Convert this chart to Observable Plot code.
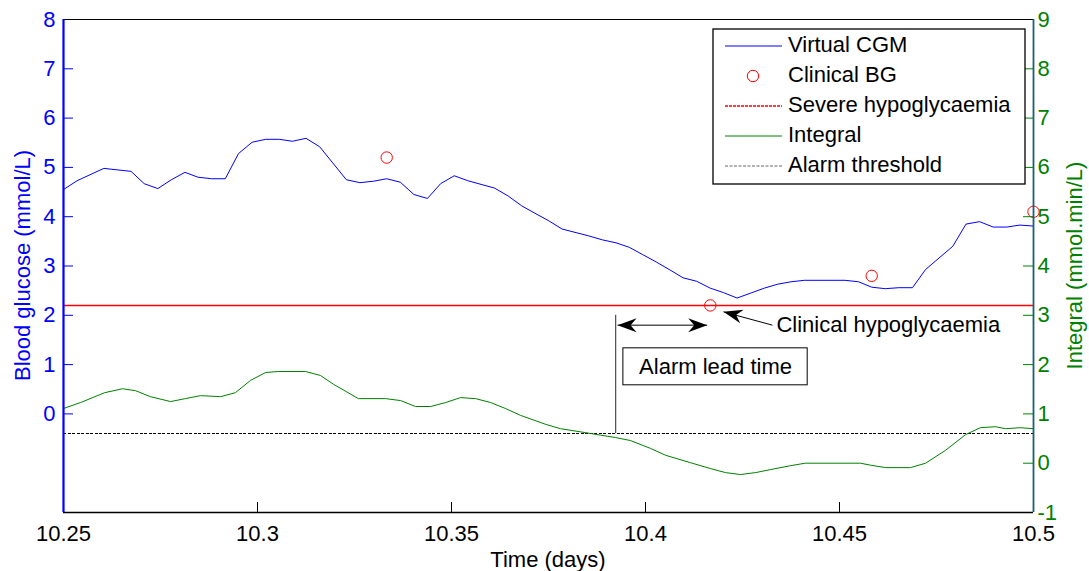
<!DOCTYPE html>
<html><head><meta charset="utf-8">
<script src="https://cdn.jsdelivr.net/npm/d3@7"></script>
<script src="https://cdn.jsdelivr.net/npm/@observablehq/plot@0.6"></script>
<style>
html,body{margin:0;padding:0;background:#fff;}
#chart{position:relative;width:1089px;height:571px;}
</style></head><body><div id="chart"></div>
<script>
// ---------- data ----------
const cgmTime = [10.2500,10.2535,10.2604,10.2674,10.2708,10.2743,10.2778,10.2813,10.2847,10.2882,10.2917,10.2951,10.2986,10.3021,10.3056,10.3090,10.3125,10.3160,10.3194,10.3229,10.3264,10.3299,10.3333,10.3368,10.3403,10.3438,10.3472,10.3507,10.3542,10.3611,10.3646,10.3681,10.3715,10.3750,10.3785,10.3854,10.3889,10.3924,10.3958,10.3993,10.4028,10.4063,10.4097,10.4132,10.4167,10.4201,10.4236,10.4271,10.4306,10.4340,10.4375,10.4410,10.4514,10.4549,10.4583,10.4618,10.4653,10.4688,10.4722,10.4792,10.4826,10.4861,10.4896,10.4931,10.4965,10.5000];
const cgmValue = [4.55,4.73,4.98,4.92,4.67,4.57,4.75,4.90,4.80,4.77,4.77,5.28,5.51,5.57,5.57,5.53,5.59,5.42,5.09,4.75,4.69,4.72,4.77,4.70,4.45,4.37,4.67,4.83,4.73,4.58,4.42,4.22,4.07,3.92,3.75,3.61,3.53,3.47,3.38,3.23,3.08,2.92,2.76,2.69,2.55,2.46,2.35,2.45,2.55,2.63,2.68,2.71,2.71,2.68,2.57,2.54,2.56,2.56,2.93,3.40,3.85,3.90,3.79,3.79,3.83,3.81];
const bgTime = [10.3333, 10.4167, 10.4583, 10.5];
const bgValue = [5.2, 2.2, 2.8, 4.1];
const integralTime = [10.2500,10.2544,10.2606,10.2652,10.2686,10.2724,10.2776,10.2814,10.2853,10.2905,10.2943,10.2982,10.3021,10.3054,10.3124,10.3162,10.3196,10.3260,10.3330,10.3369,10.3407,10.3446,10.3485,10.3523,10.3562,10.3601,10.3639,10.3678,10.3742,10.3781,10.3845,10.3884,10.3923,10.3961,10.4013,10.4052,10.4116,10.4168,10.4206,10.4245,10.4284,10.4322,10.4374,10.4412,10.4554,10.4580,10.4619,10.4683,10.4722,10.4773,10.4825,10.4863,10.4902,10.4928,10.4966,10.5000];
const integralValue = [1.11,1.23,1.43,1.51,1.47,1.35,1.25,1.31,1.37,1.35,1.43,1.68,1.84,1.86,1.86,1.78,1.60,1.31,1.31,1.27,1.15,1.15,1.23,1.33,1.31,1.23,1.11,0.97,0.79,0.70,0.62,0.57,0.52,0.46,0.30,0.16,0.01,-0.11,-0.19,-0.23,-0.19,-0.13,-0.05,0.00,0.00,-0.04,-0.09,-0.09,0.00,0.26,0.58,0.72,0.74,0.70,0.72,0.70];
const severeHypo = 2.2;        // mmol/L (left axis)
const alarmThreshold = 0.6;    // mmol.min/L (right axis)
const xDomain = [10.25, 10.5];
const leftDomain = [-2, 8];
const rightDomain = [-1, 9];
const xTicks = [10.25, 10.3, 10.35, 10.4, 10.45, 10.5];
const xTickLabels = ["10.25", "10.3", "10.35", "10.4", "10.45", "10.5"];
const leftTicks = [0, 1, 2, 3, 4, 5, 6, 7, 8];
const rightTicks = [-1, 0, 1, 2, 3, 4, 5, 6, 7, 8, 9];
// annotations (data units: time in days, level in mmol/L)
const alarmTime = 10.3923;
const alarmLineTop = 2.0;
const leadArrow = {x1: 10.3928, x2: 10.4159, y: 1.8};
const leadBox = {x1: 10.3943, x2: 10.4418, y1: 0.58, y2: 1.33, label: "Alarm lead time"};
const hypoPointer = {x1: 10.4327, y1: 1.80, x2: 10.4201, y2: 2.07, label: "Clinical hypoglycaemia"};
const legendLabels = ["Virtual CGM", "Clinical BG", "Severe hypoglycaemia", "Integral", "Alarm threshold"];

// ---------- helpers ----------
const toLeft = r => leftDomain[0] + (r - rightDomain[0]) * (leftDomain[1] - leftDomain[0]) / (rightDomain[1] - rightDomain[0]);
const cgm = cgmTime.map((t, i) => ({t, v: cgmValue[i]}));
const bg = bgTime.map((t, i) => ({t, v: bgValue[i]}));
const integral = integralTime.map((t, i) => ({t, v: toLeft(integralValue[i])}));
const BLUE = "#0000ff", RED = "#ff0000", GREEN = "#008000", TEAL = "#18607a";
const arrowHead = {draw(ctx) { ctx.moveTo(0, 0); ctx.lineTo(-7, 19); ctx.lineTo(0, 13); ctx.lineTo(7, 19); ctx.closePath(); }};
const heads = [
  {t: leadArrow.x1, v: leadArrow.y, rot: -90},
  {t: leadArrow.x2, v: leadArrow.y, rot: 90},
  {t: hypoPointer.x2, v: hypoPointer.y2, rot: -76}
];

const chart = Plot.plot({
  width: 1089, height: 571,
  marginLeft: 63, marginRight: 56, marginTop: 19, marginBottom: 59,
  x: {domain: xDomain},
  y: {domain: leftDomain},
  style: {fontFamily: "'Liberation Sans', Arial, sans-serif", fontSize: "22px", background: "#fff", overflow: "visible"},
  marks: [
    Plot.ruleY([severeHypo], {stroke: RED, strokeWidth: 1.5}),
    Plot.ruleY([toLeft(alarmThreshold)], {stroke: "#000", strokeWidth: 1, strokeDasharray: "3,1.5", shapeRendering: "crispEdges"}),
    Plot.line(integral, {x: "t", y: "v", stroke: GREEN, strokeWidth: 1}),
    Plot.line(cgm, {x: "t", y: "v", stroke: BLUE, strokeWidth: 1}),
    Plot.dot(bg, {x: "t", y: "v", r: 5.7, stroke: RED, fill: "none", strokeWidth: 1}),
    // annotations
    Plot.ruleX([alarmTime], {y1: toLeft(alarmThreshold), y2: alarmLineTop, stroke: "#555", strokeWidth: 1.3}),
    Plot.link([leadArrow], {x1: "x1", x2: "x2", y1: "y", y2: "y", stroke: "#000", strokeWidth: 1}),
    Plot.link([hypoPointer], {x1: "x1", x2: "x2", y1: "y1", y2: "y2", stroke: "#000", strokeWidth: 1}),
    Plot.dot(heads, {x: "t", y: "v", symbol: arrowHead, rotate: "rot", fill: "#000", stroke: "none", r: 5}),
    Plot.text([hypoPointer], {x: "x1", y: "y1", text: "label", textAnchor: "start", dx: 4, fontSize: 22, fill: "#000"}),
    Plot.rect([leadBox], {x1: "x1", x2: "x2", y1: "y1", y2: "y2", fill: "#fff", stroke: "#000", strokeWidth: 1}),
    Plot.text([leadBox], {x: d => (d.x1 + d.x2) / 2, y: d => (d.y1 + d.y2) / 2, text: "label", fontSize: 22, fill: "#000"}),
    // ticks (inward)
    Plot.tickY(leftTicks, {y: d => d, stroke: BLUE, insetRight: 960}),
    Plot.tickY(rightTicks, {y: d => toLeft(d), stroke: GREEN, insetLeft: 960}),
    Plot.tickX(xTicks, {x: d => d, stroke: "#000", insetTop: 483}),
    // frame
    Plot.ruleY([leftDomain[1]], {stroke: "#000", strokeWidth: 1}),
    Plot.ruleY([leftDomain[0]], {stroke: "#000", strokeWidth: 1.3}),
    Plot.ruleX([xDomain[1]], {stroke: TEAL, strokeWidth: 1.8}),
    Plot.ruleX([xDomain[0]], {stroke: BLUE, strokeWidth: 2.2}),
    // axes
    Plot.axisX(xTicks, {anchor: "bottom", tickSize: 0, tickPadding: 13, tickFormat: d => xTickLabels[xTicks.indexOf(d)], label: null, fill: "#000"}),
    Plot.axisY(leftTicks, {anchor: "left", tickSize: 0, tickPadding: 8, label: null, fill: BLUE}),
    Plot.axisY(rightTicks.map(toLeft), {anchor: "right", tickSize: 0, tickPadding: 4, tickFormat: d => String(rightTicks[rightTicks.map(toLeft).indexOf(d)]), label: null, fill: GREEN})
  ]
});

const svg = d3.select(chart);
// axis titles
svg.append("text").attr("transform", "translate(24,265.5) rotate(-90)").attr("text-anchor", "middle").attr("dominant-baseline", "middle").attr("fill", BLUE).text("Blood glucose (mmol/L)");
svg.append("text").attr("transform", "translate(1076,265.5) rotate(-90)").attr("text-anchor", "middle").attr("dominant-baseline", "middle").attr("fill", GREEN).text("Integral (mmol.min/L)");
svg.append("text").attr("x", 548).attr("y", 561).attr("text-anchor", "middle").attr("dominant-baseline", "middle").attr("fill", "#000").text("Time (days)");

// legend
const lg = svg.append("g");
lg.append("rect").attr("x", 713).attr("y", 29).attr("width", 312).attr("height", 155).attr("fill", "#fff").attr("stroke", "#000").attr("stroke-width", 1.3);
const rowY = [46, 76, 106, 136, 166];
const swatch = [
  {type: "line", stroke: BLUE, dash: null},
  {type: "dot", stroke: RED},
  {type: "line", stroke: RED, dash: "3,1"},
  {type: "line", stroke: GREEN, dash: null},
  {type: "line", stroke: "#666", dash: "3,1.5"}
];
legendLabels.forEach((lab, i) => {
  const y = rowY[i], s = swatch[i];
  if (s.type === "line") {
    const l = lg.append("line").attr("x1", 725).attr("x2", 782).attr("y1", y).attr("y2", y).attr("stroke", s.stroke).attr("stroke-width", s.stroke === RED ? 1.5 : 1);
    if (s.dash) l.attr("stroke-dasharray", s.dash);
  } else {
    lg.append("circle").attr("cx", 753).attr("cy", y).attr("r", 5.7).attr("fill", "none").attr("stroke", s.stroke);
  }
  lg.append("text").attr("x", 788).attr("y", y).attr("text-anchor", "start").attr("dominant-baseline", "middle").attr("fill", "#000").text(lab);
});

document.getElementById("chart").appendChild(chart);
</script>
</body></html>
